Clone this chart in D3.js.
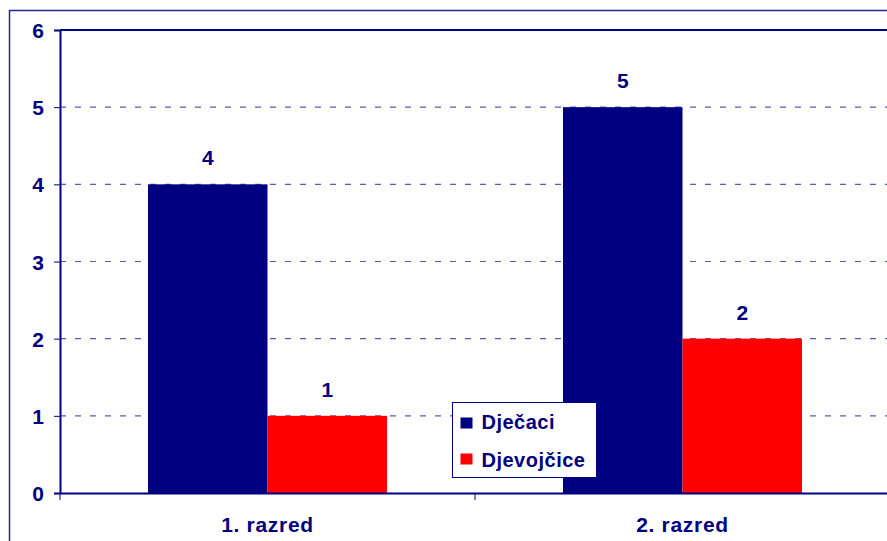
<!DOCTYPE html>
<html><head><meta charset="utf-8">
<script src="https://cdn.jsdelivr.net/npm/d3@7"></script>
<style>body{margin:0;background:#fff;overflow:hidden}svg{display:block;font-family:"Liberation Sans",Arial,sans-serif}</style>
</head><body>
<svg id="c" width="887" height="541"></svg>
<script>
const categories = ["1. razred", "2. razred"];
const seriesNames = ["Dječaci", "Djevojčice"];
const dječaci = [4, 5];
const djevojčice = [1, 2];
const yTicks = [0, 1, 2, 3, 4, 5, 6];
const colors = ["#000080", "#ff0000"];

const svg = d3.select("#c");
const navy = "#000080";
const L = 60, T = 30, B = 493, R = 890;
const FF = "Liberation Sans, Arial, sans-serif";

// outer frame
svg.append("rect").attr("x", 9.5).attr("y", 10.5).attr("width", 900).attr("height", 600)
  .attr("fill", "none").attr("stroke", navy).attr("stroke-width", 1.5).attr("opacity", 0.85);

const x = d3.scaleBand().domain(categories).range([L, R]).paddingInner(0).paddingOuter(0);
const y = d3.scaleLinear().domain([0, 6]).range([B, T]);
const xs = d3.scaleBand().domain(seriesNames).range([0, x.bandwidth()]).paddingInner(0).paddingOuter(0.736);

// gridlines
svg.append("g").selectAll("line").data(yTicks.filter(d => d > 0 && d < 6)).join("line")
  .attr("x1", L).attr("x2", R).attr("y1", d => y(d)).attr("y2", d => y(d))
  .attr("stroke", "#5a5ab4").attr("stroke-width", 1.2).attr("stroke-dasharray", "6,9");

// bars
const data = categories.map((c, i) => ({c, vals: [dječaci[i], djevojčice[i]]}));
const g = svg.append("g");
data.forEach(d => {
  d.vals.forEach((v, j) => {
    g.append("rect").attr("x", x(d.c) + xs(seriesNames[j])).attr("y", y(v))
      .attr("width", xs.bandwidth()).attr("height", y(0) - y(v)).attr("fill", colors[j]);
    g.append("text").attr("x", x(d.c) + xs(seriesNames[j]) + xs.bandwidth() / 2).attr("y", y(v) - 19)
      .attr("text-anchor", "middle").attr("font-size", 21).attr("font-weight", "bold").attr("fill", navy)
      .attr("font-family", FF).text(v);
  });
});

// plot border top
svg.append("line").attr("x1", L).attr("x2", R).attr("y1", T).attr("y2", T).attr("stroke", navy).attr("stroke-width", 2);

// y axis
const ya = d3.axisLeft(y).tickValues(yTicks).tickSize(6).tickFormat(d3.format("d"));
const yg = svg.append("g").attr("transform", `translate(${L},0)`).call(ya);
yg.select(".domain").attr("stroke", navy).attr("stroke-width", 2);
yg.selectAll(".tick line").attr("stroke", navy);
yg.selectAll(".tick text").attr("x", -16).attr("dy", "0.36em").attr("font-size", 21).attr("font-weight", "bold").attr("fill", navy)
  .attr("font-family", FF);

// x axis
const xa = d3.axisBottom(x).tickSize(0);
const xg = svg.append("g").attr("transform", `translate(0,${B})`).call(xa);
xg.select(".domain").attr("stroke", navy).attr("stroke-width", 2);
xg.selectAll(".tick text").attr("y", 39).attr("dy", 0).attr("font-size", 21).attr("font-weight", "bold").attr("fill", navy)
  .attr("letter-spacing", 0.7).attr("font-family", FF);
// category separators
xg.selectAll(".sep").data(categories.slice(1)).join("line")
  .attr("x1", d => x(d)).attr("x2", d => x(d)).attr("y1", 0).attr("y2", 7).attr("stroke", navy);
xg.append("line").attr("x1", L).attr("x2", L).attr("y1", 0).attr("y2", 7).attr("stroke", navy);

// legend
const lg = svg.append("g").attr("transform", "translate(452.5,402.5)");
lg.append("rect").attr("width", 144).attr("height", 75).attr("fill", "#fff").attr("stroke", navy).attr("stroke-width", 1);
seriesNames.forEach((s, i) => {
  lg.append("rect").attr("x", 8).attr("y", 15 + i * 36).attr("width", 12).attr("height", 11).attr("fill", colors[i]);
  lg.append("text").attr("x", 29).attr("y", 26.5 + i * 38).attr("font-size", 20).attr("font-weight", "bold")
    .attr("letter-spacing", 0.5).attr("font-family", FF).attr("fill", navy).text(s);
});
</script>
</body></html>
